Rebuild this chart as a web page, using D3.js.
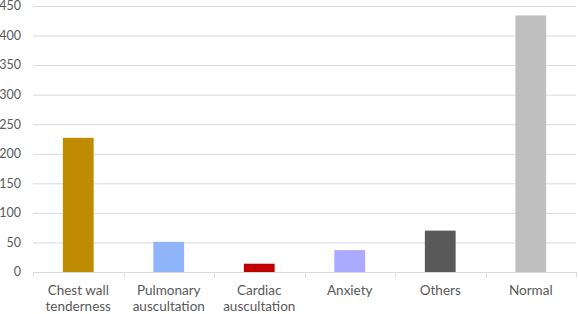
<!DOCTYPE html>
<meta charset="utf-8">
<style>
body { margin: 0; background: #fff; }
text { font-family: Lato, "Open Sans", sans-serif; fill: #595959; }
.grid line { stroke: #d9d9d9; }
.grid .domain { display: none; }
</style>
<svg width="578" height="314"></svg>
<script src="https://cdn.jsdelivr.net/npm/d3@7/dist/d3.min.js"></script>
<script>

var categories = [["Chest wall", "tenderness"], ["Pulmonary", "auscultation"], ["Cardiac", "auscultation"], ["Anxiety"], ["Others"], ["Normal"]];
var values = [227, 51, 14, 37, 70, 434];
var colors = ["#bf8b00", "#8fb4f9", "#c00000", "#aaaaff", "#595959", "#bfbfbf"];
var yTicks = [0, 50, 100, 150, 200, 250, 300, 350, 400, 450];

var svg = d3.select("svg"),
    margin = {top: 6, right: 2, bottom: 42, left: 33},
    width = +svg.attr("width") - margin.left - margin.right,
    height = +svg.attr("height") - margin.top - margin.bottom,
    g = svg.append("g").attr("transform", "translate(" + margin.left + "," + margin.top + ")");

var x = d3.scaleBand()
    .domain(d3.range(categories.length))
    .range([0, width]);

var y = d3.scaleLinear().domain([0, 450]).range([height, 0]);

// gridlines
g.append("g")
    .attr("class", "grid")
    .call(d3.axisLeft(y).tickValues(yTicks).tickSize(-width).tickFormat(""));

// y labels
g.selectAll(".ylab")
  .data(yTicks)
  .enter().append("text")
    .attr("class", "ylab")
    .attr("x", -12)
    .attr("y", function(d) { return y(d); })
    .attr("dy", "0.35em")
    .attr("text-anchor", "end")
    .attr("font-size", 12.5)
    .text(function(d) { return d; });

// bars
var bw = x.bandwidth() * 0.34;
g.selectAll(".bar")
  .data(values)
  .enter().append("rect")
    .attr("class", "bar")
    .attr("x", function(d, i) { return x(i) + (x.bandwidth() - bw) / 2; })
    .attr("y", function(d) { return y(d); })
    .attr("width", bw)
    .attr("height", function(d) { return height - y(d); })
    .attr("fill", function(d, i) { return colors[i]; });

// x axis line + ticks
g.append("line")
    .attr("x1", 0).attr("x2", width)
    .attr("y1", height + 0.5).attr("y2", height + 0.5)
    .attr("stroke", "#d9d9d9");
g.selectAll(".xtick")
  .data(d3.range(categories.length + 1))
  .enter().append("line")
    .attr("x1", function(d) { return Math.round(d * x.step()) + 0.5; })
    .attr("x2", function(d) { return Math.round(d * x.step()) + 0.5; })
    .attr("y1", height)
    .attr("y2", height + 5)
    .attr("stroke", "#d9d9d9");

// category labels
var lab = g.selectAll(".xlab")
  .data(categories)
  .enter().append("text")
    .attr("class", "xlab")
    .attr("text-anchor", "middle")
    .attr("font-size", 13.5)
    .attr("transform", function(d, i) { return "translate(" + (x(i) + x.bandwidth() / 2) + "," + (height + 23) + ")"; });
lab.selectAll("tspan")
  .data(function(d) { return d; })
  .enter().append("tspan")
    .attr("x", 0)
    .attr("dy", function(d, i) { return i ? 16 : 0; })
    .text(function(d) { return d; });

</script>
